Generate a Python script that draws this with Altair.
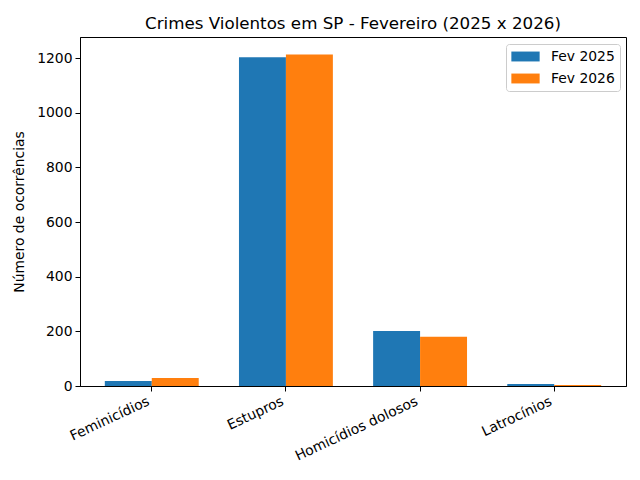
import altair as alt
import pandas as pd

categories = ["Feminicídios", "Estupros", "Homicídios dolosos", "Latrocínios"]
series = ["Fev 2025", "Fev 2026"]
values_2025 = [18, 1203, 201, 7]
values_2026 = [29, 1213, 180, 4]
colors = ["#1f77b4", "#ff7f0e"]

rows = []
for c, a, b in zip(categories, values_2025, values_2026):
    rows.append({"crime": c, "periodo": series[0], "valor": a})
    rows.append({"crime": c, "periodo": series[1], "valor": b})
df = pd.DataFrame(rows)

FONT = "DejaVu Sans"

chart = alt.Chart(df).mark_bar().encode(
    x=alt.X("crime:N", sort=categories, title=None,
            scale=alt.Scale(paddingInner=0.3, paddingOuter=0.185),
            axis=alt.Axis(labelAngle=-25, labelAlign="right", labelBaseline="top",
                          labelFontSize=13.9, labelColor="black", tickColor="black",
                          tickSize=5, domainColor="black", labelPadding=3,
                          labelOffset=-6,
                          labelFont=FONT, grid=False, labelLimit=300)),
    xOffset=alt.XOffset("periodo:N", sort=series,
                        scale=alt.Scale(paddingInner=0, paddingOuter=0)),
    y=alt.Y("valor:Q", title="Número de ocorrências",
            scale=alt.Scale(domain=[0, 1277], nice=False),
            axis=alt.Axis(values=[0, 200, 400, 600, 800, 1000, 1200], format="d",
                          labelFontSize=13.9, labelColor="black", tickColor="black",
                          tickSize=5, domainColor="black", grid=False,
                          titleFontSize=13.9, titleFontWeight="normal",
                          titleColor="black", titleFont=FONT, labelFont=FONT,
                          titlePadding=10, labelPadding=3)),
    color=alt.Color("periodo:N", sort=series,
                    scale=alt.Scale(domain=series, range=colors),
                    legend=alt.Legend(title=None, orient="none",
                                      legendX=426, legendY=7,
                                      labelFontSize=13.9,
                                      labelFont=FONT, labelColor="black",
                                      symbolType="M-2,-0.7H2V0.7H-2Z",
                                      symbolSize=200, symbolStrokeWidth=0,
                                      symbolOpacity=1, symbolOffset=7,
                                      strokeColor="#cccccc", padding=5,
                                      cornerRadius=3, fillColor="white",
                                      rowPadding=7, labelOffset=18)),
).properties(
    width=546,
    height=349,
    title=alt.TitleParams("Crimes Violentos em SP - Fevereiro (2025 x 2026)",
                          fontSize=16.7, font=FONT, fontWeight="normal",
                          color="black", offset=4),
    padding={"left": 72, "top": 29, "right": 6, "bottom": 80},
    autosize=alt.AutoSizeParams(type="none"),
).configure(
    background="white",
    view=alt.ViewConfig(stroke="black", strokeWidth=1, strokeOpacity=1),
)

chart.save("out.html", embed_options={"renderer": "svg", "actions": False})
